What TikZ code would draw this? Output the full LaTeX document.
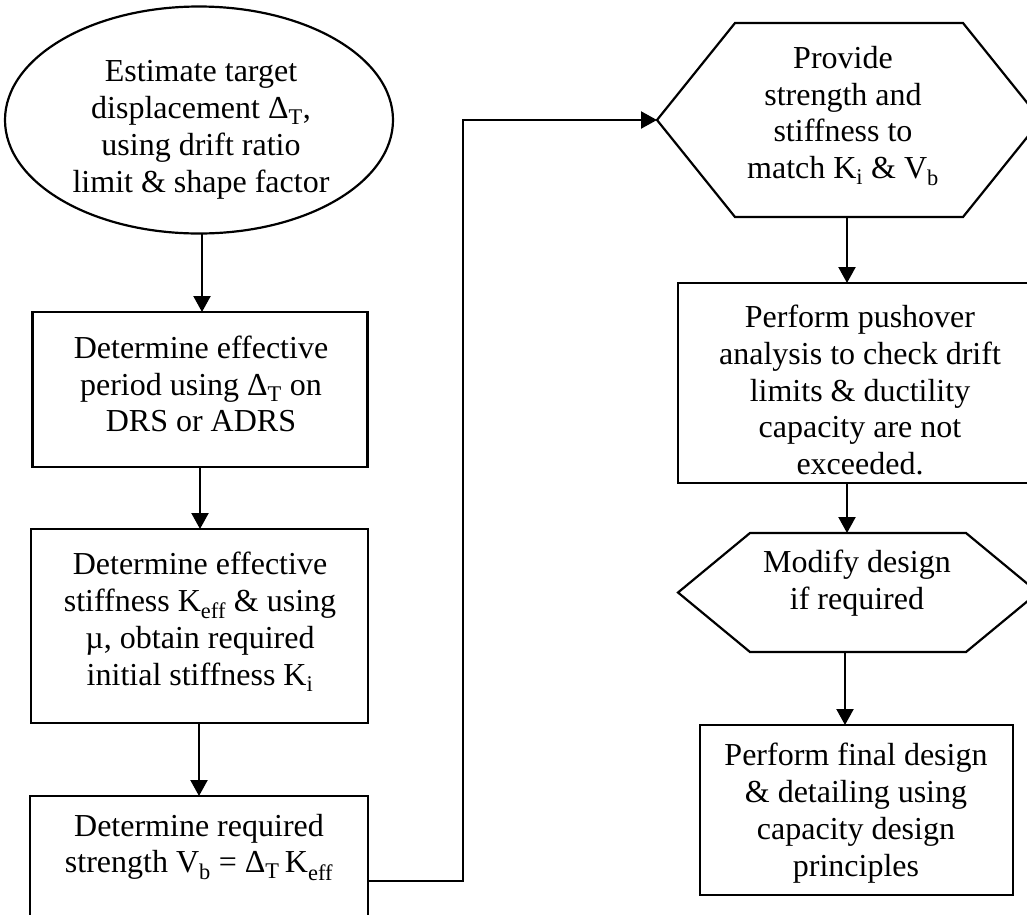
\documentclass[tikz,border=0pt]{standalone}
\usepackage{fontspec}
\setmainfont{Liberation Serif}
\usetikzlibrary{shapes.geometric,arrows.meta}

\tikzset{
  outline/.style={draw, line width=2.2pt, inner sep=0pt, outer sep=0pt},
  stepbox/.style={outline, rectangle},
  frame/.style={rectangle, inner sep=0pt, outer sep=0pt},
  oval/.style={outline, ellipse},
  lbl/.style={align=center, inner sep=0pt, font=\fontsize{32}{36.8}\selectfont},
  flow/.style={line width=2.2pt, -{Triangle[length=16pt,width=17pt]}},
}

\begin{document}
\begin{tikzpicture}[x=1pt,y=-1pt]
\useasboundingbox (0,0) rectangle (1027,914);
\clip (0,0) rectangle (1027,914);

% left column
\node[oval, minimum width=388pt, minimum height=227pt] (est) at (199,120) {};
\node[lbl] (est-t) at (201,130) {Estimate target\\displacement Δ\textsubscript{T},\\using drift ratio\\limit \& shape factor};

\node[stepbox, minimum width=335pt, minimum height=155pt] (period) at (200,389.5) {};
\node[lbl] (period-t) at (201,384) {Determine effective\\period using Δ\textsubscript{T} on\\DRS or ADRS};

\node[stepbox, minimum width=337pt, minimum height=194pt] (stiff) at (199.5,626) {};
\node[lbl] (stiff-t) at (200,622) {Determine effective\\stiffness K\textsubscript{eff} \& using\\µ, obtain required\\initial stiffness K\textsubscript{i}};

\node[stepbox, minimum width=338pt, minimum height=140pt] (strength) at (199,866) {};
\node[lbl] (strength-t) at (199,847) {Determine required\\strength V\textsubscript{b} = Δ\textsubscript{T}\,K\textsubscript{eff}};

% right column
\node[frame, minimum width=384pt, minimum height=194pt] (provide) at (849,120) {};
\draw[line width=2.2pt, line join=miter]
  (provide.west) -- ([xshift=78pt]provide.north west) -- ([xshift=-78pt]provide.north east)
  -- (provide.east) -- ([xshift=-78pt]provide.south east) -- ([xshift=78pt]provide.south west) -- cycle;
\node[lbl] (provide-t) at (843,116) {Provide\\strength and\\stiffness to\\match K\textsubscript{i} \& V\textsubscript{b}};

\node[stepbox, minimum width=364pt, minimum height=200pt] (push) at (860,383) {};
\node[lbl] (push-t) at (860,390) {Perform pushover\\analysis to check drift\\limits \& ductility\\capacity are not\\exceeded.};

\node[frame, minimum width=360pt, minimum height=119pt] (modify) at (858,592.5) {};
\draw[line width=2.2pt, line join=miter]
  (modify.west) -- ([xshift=72pt]modify.north west) -- ([xshift=-72pt]modify.north east)
  -- (modify.east) -- ([xshift=-72pt]modify.south east) -- ([xshift=72pt]modify.south west) -- cycle;
\node[lbl] (modify-t) at (857,583) {Modify design\\if required};

\node[stepbox, minimum width=313pt, minimum height=170pt] (final) at (856.5,810) {};
\node[lbl] (final-t) at (856,813) {Perform final design\\\& detailing using\\capacity design\\principles};

% connectors
\coordinate (turn) at (463,881);
\draw[flow] (est.south -| 202,0) -- (period.north -| 202,0);
\draw[flow] (period.south -| 200,0) -- (stiff.north -| 200,0);
\draw[flow] (stiff.south -| 199,0) -- (strength.north -| 199,0);
\draw[flow] (strength.east |- turn) -- (turn) |- (provide.west);
\draw[flow] (provide.south -| 847,0) -- (push.north -| 847,0);
\draw[flow] (push.south -| 847,0) -- (modify.north -| 847,0);
\draw[flow] (modify.south -| 845,0) -- (final.north -| 845,0);
\end{tikzpicture}
\end{document}
